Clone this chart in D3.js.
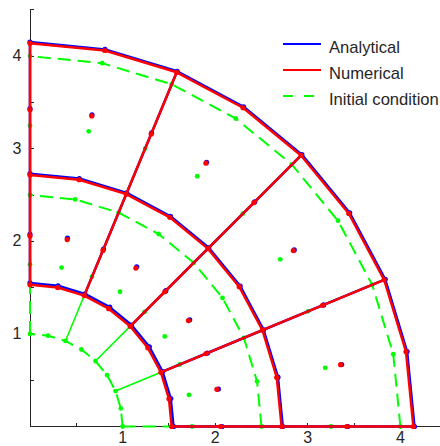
<!DOCTYPE html>
<html>
<head>
<meta charset="utf-8">
<script src="https://cdn.jsdelivr.net/npm/d3@7"></script>
<style>
  html, body { margin: 0; padding: 0; background: #fff; overflow: hidden; }
  text { font-family: "Liberation Sans", Arial, Helvetica, sans-serif; fill: #262626; }
</style>
</head>
<body>
<svg id="chart" width="440" height="446"></svg>
<script>
// Quarter-annulus mesh of 9-node elements: node angles (degrees) and node radii
const nodeAngles = [0, 11.25, 22.5, 33.75, 45, 56.25, 67.5, 78.75, 90];
const radiusInitial = [1, 1.75, 2.5, 3.25, 4];
const radiusNumerical = [1.530, 2.058, 2.717, 3.420, 4.140];
const radiusAnalytical = [1.550, 2.074, 2.730, 3.432, 4.152];

// Indices of node rings / rays that form element boundaries
const edgeRings = [0, 2, 4];
const edgeRays = [0, 2, 4, 6, 8];

const xTickValues = [0.5, 1, 1.5, 2, 2.5, 3, 3.5, 4, 4.5];
const yTickValues = [0.5, 1, 1.5, 2, 2.5, 3, 3.5, 4, 4.5];
const tickLabels = [1, 2, 3, 4];

const seriesNames = ["Analytical", "Numerical", "Initial condition"];
const seriesColors = ["#0000ff", "#ff0000", "#00ff00"];

const svg = d3.select("#chart");
const x = d3.scaleLinear().domain([0, 4.5]).range([30, 446.7]);
const y = d3.scaleLinear().domain([0, 4.5]).range([426.5, 9.8]);

// polar node -> pixel position
const pt = (r, deg) => {
  const a = deg * Math.PI / 180;
  return [x(r * Math.cos(a)), y(r * Math.sin(a))];
};
const line = d3.line();

// ---- axes (inward ticks, labels on integers only)
const axes = svg.append("g");
axes.append("line").attr("x1", x(0)).attr("x2", x(4.5)).attr("y1", y(0)).attr("y2", y(0))
  .attr("stroke", "#262626").attr("stroke-width", 1).attr("shape-rendering", "crispEdges");
axes.append("line").attr("x1", x(0)).attr("x2", x(0)).attr("y1", y(0)).attr("y2", y(4.5))
  .attr("stroke", "#262626").attr("stroke-width", 1).attr("shape-rendering", "crispEdges");
axes.selectAll(".xt").data(xTickValues).join("line")
  .attr("x1", d => x(d)).attr("x2", d => x(d)).attr("y1", y(0)).attr("y2", y(0) - 4)
  .attr("stroke", "#262626").attr("shape-rendering", "crispEdges");
axes.selectAll(".yt").data(yTickValues).join("line")
  .attr("x1", x(0)).attr("x2", x(0) + 4).attr("y1", d => y(d)).attr("y2", d => y(d))
  .attr("stroke", "#262626").attr("shape-rendering", "crispEdges");
axes.selectAll(".xl").data(tickLabels).join("text")
  .attr("x", d => x(d)).attr("y", y(0) + 16.5).attr("text-anchor", "middle")
  .attr("font-size", 16).text(d => d);
axes.selectAll(".yl").data(tickLabels).join("text")
  .attr("x", x(0) - 8.5).attr("y", d => y(d)).attr("dy", "0.3em").attr("text-anchor", "end")
  .attr("font-size", 16).text(d => d);

// ---- initial mesh (green)
const gInit = svg.append("g");
edgeRings.forEach(ri => {
  gInit.append("path")
    .attr("d", line(nodeAngles.map(a => pt(radiusInitial[ri], a))))
    .attr("fill", "none").attr("stroke", seriesColors[2]).attr("stroke-width", 2)
    .attr("stroke-dasharray", "13,7");
});
edgeRays.forEach(ai => {
  const interior = ai !== 0 && ai !== nodeAngles.length - 1;
  const p = gInit.append("path")
    .attr("d", line(radiusInitial.map(r => pt(r, nodeAngles[ai]))))
    .attr("fill", "none").attr("stroke", seriesColors[2])
    .attr("stroke-width", interior ? 1.6 : 2);
  if (!interior) p.attr("stroke-dasharray", "13,7");
});
radiusInitial.forEach(r => nodeAngles.forEach(a => {
  const [px, py] = pt(r, a);
  gInit.append("circle").attr("cx", px).attr("cy", py).attr("r", 2.4).attr("fill", seriesColors[2]);
}));

// ---- deformed meshes: analytical (blue) under numerical (red)
function drawMesh(radii, color) {
  const g = svg.append("g");
  edgeRings.forEach(ri => {
    g.append("path").attr("d", line(nodeAngles.map(a => pt(radii[ri], a))))
      .attr("fill", "none").attr("stroke", color).attr("stroke-width", 2.5)
      .attr("stroke-linejoin", "round");
  });
  edgeRays.forEach(ai => {
    g.append("path").attr("d", line(radii.map(r => pt(r, nodeAngles[ai]))))
      .attr("fill", "none").attr("stroke", color).attr("stroke-width", 2.5);
  });
  radii.forEach(r => nodeAngles.forEach(a => {
    const [px, py] = pt(r, a);
    g.append("circle").attr("cx", px).attr("cy", py).attr("r", 2.6).attr("fill", color);
  }));
}
drawMesh(radiusAnalytical, seriesColors[0]);
drawMesh(radiusNumerical, seriesColors[1]);

// ---- legend
const legend = svg.append("g").attr("transform", "translate(283,44)");
seriesNames.forEach((name, i) => {
  const row = legend.append("g").attr("transform", `translate(0,${i * 26})`);
  const l = row.append("line").attr("x1", 0).attr("x2", 38).attr("y1", 0).attr("y2", 0)
    .attr("stroke", seriesColors[i]).attr("stroke-width", 2);
  if (i === 2) l.attr("stroke-dasharray", "10,11");
  row.append("text").attr("x", 46).attr("y", 9.3)
    .attr("font-size", 16.6).text(name);
});
</script>
</body>
</html>
